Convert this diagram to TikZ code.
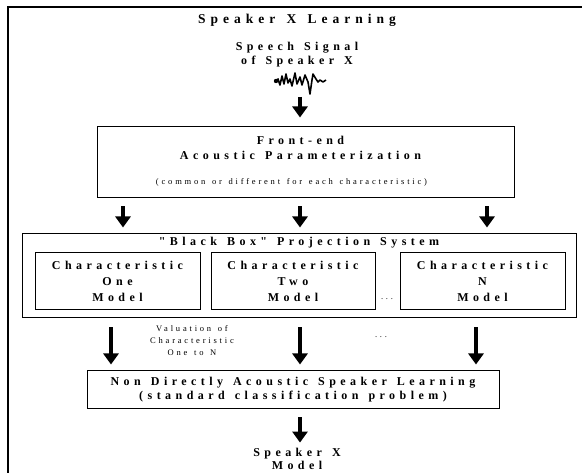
\documentclass[tikz,border=0pt]{standalone}
\usepackage{fontspec}
\setmainfont{Liberation Serif}
\newfontfamily\spaced[LetterSpace=37, WordSpace=1.35]{Liberation Serif}
\newfontfamily\spacedsm[LetterSpace=33, WordSpace=1.35]{Liberation Serif}
\usetikzlibrary{arrows.meta, calc}

\tikzset{
  ttl/.style={font=\spaced\bfseries\fontsize{13.5}{15}\selectfont, inner sep=0pt},
  lbl/.style={font=\spaced\bfseries\fontsize{12}{14.5}\selectfont, align=center, inner sep=0pt},
  sml/.style={font=\spacedsm\fontsize{8.5}{12}\selectfont, align=center, inner sep=0pt},
  box/.style={draw, line width=1pt, inner sep=0pt},
  blockarrow/.style={line width=3.6pt, -{Triangle[width=15pt, length=11pt]}},
}

\begin{document}
\begin{tikzpicture}[x=1pt, y=-1pt]
\useasboundingbox (0,0) rectangle (582,473);

% Frame
\draw[line width=2.4pt] (8,480) -- (8,7) -- (590,7);

% Title and input
\node[ttl] (title) at (297,20) {Speaker X Learning};
\node[lbl] (speech) at (297,54.5) {Speech Signal\\of Speaker X};

% Waveform
\draw[line width=1.6pt, line join=round] (275,81) -- (278,79) -- (280,85) -- (282,76) -- (284,84)
  -- (286,74) -- (288,83) -- (290,79) -- (292,86) -- (295,73) -- (297,84) -- (300,77)
  -- (302,85) -- (305,75) -- (308,82) -- (310,94) -- (312,80) -- (313,74) -- (316,79)
  -- (318,82) -- (320,80) -- (323,82) -- (326,80);
\fill (276,81) circle (2.2pt);
\coordinate (wave) at (300,97);

% Front-end
\node[box, minimum width=417pt, minimum height=71pt] (front) at (305.5,162.5) {};
\node[lbl] (fronttxt) at ([xshift=-5pt, yshift=-21.5pt]front.north) {Front-end\\Acoustic Parameterization};
\node[sml] (frontnote) at ([xshift=-14pt, yshift=16pt]front.south) {(common or different for each characteristic)};

% Black box
\node[box, minimum width=554pt, minimum height=84pt] (bbox) at (299,276) {};
\node[lbl] (bboxtxt) at ([yshift=-9pt]bbox.north) {"Black Box" Projection System};
\tikzset{charbox/.style={box, lbl, font=\spaced\bfseries\fontsize{12}{16}\selectfont, minimum height=57pt}}
\node[charbox, minimum width=165pt] (char1) at (117.5,281.5) {Characteristic\\One\\Model};
\node[charbox, minimum width=164pt] (char2) at (293,281.5) {Characteristic\\Two\\Model};
\node[charbox, minimum width=165pt] (char3) at (482.5,281.5) {Characteristic\\N\\Model};
\node[sml] (dotsa) at (387,299) {...};

% Learning
\node[box, lbl, font=\spaced\bfseries\fontsize{12}{14}\selectfont, minimum width=412pt, minimum height=38pt] (learn) at (293,390) {Non Directly Acoustic Speaker Learning\\(standard classification problem)};
\node[sml] (valuation) at (192,341) {Valuation of\\Characteristic\\One to N};
\node[sml] (dotsb) at (381,337) {...};
\node[lbl, font=\spaced\bfseries\fontsize{12}{13}\selectfont] (result) at (297,458.5) {Speaker X\\Model};

% Arrow columns
\coordinate (c1) at (123,0);
\coordinate (c2) at (300,0);
\coordinate (c3) at (487,0);
\coordinate (d1) at (111,0);
\coordinate (d2) at (300,0);
\coordinate (d3) at (476,0);

% Arrows
\draw[blockarrow, shorten >=9pt] (wave) -- (front.north -| wave);
\foreach \c in {c1,c2,c3} {
  \draw[blockarrow, shorten <=8pt, shorten >=6pt] (front.south -| \c) -- (bbox.north -| \c);
}
\foreach \d in {d1,d2,d3} {
  \draw[blockarrow, shorten <=9pt, shorten >=6pt] (bbox.south -| \d) -- (learn.north -| \d);
}
\draw[blockarrow, shorten <=8pt, shorten >=5pt] (learn.south -| c2) -- (result.north -| c2);

\end{tikzpicture}
\end{document}
